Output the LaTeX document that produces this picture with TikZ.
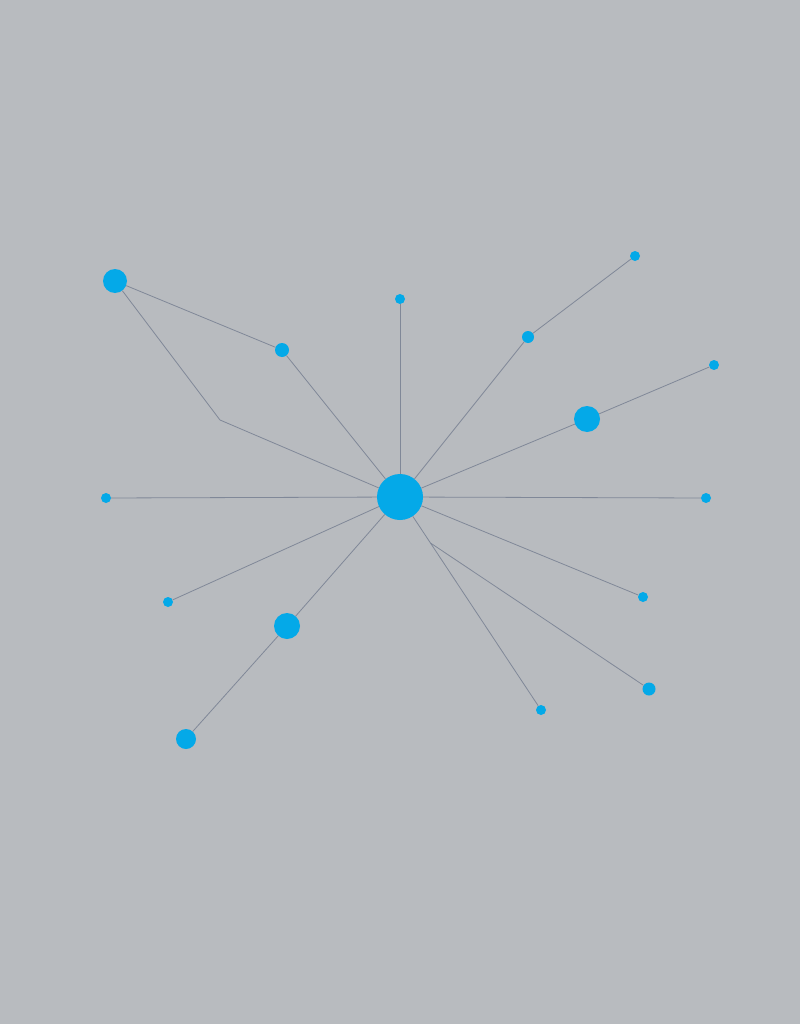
\documentclass[tikz,border=0pt]{standalone}
\definecolor{bg}{HTML}{B8BBBF}
\definecolor{dot}{HTML}{04A9E8}
\definecolor{ln}{HTML}{808898}
\tikzset{
  dotnode/.style={circle, fill=dot, draw=none, inner sep=0pt, minimum size=#1},
  link/.style={draw=ln, line width=0.8pt}
}
\begin{document}
\begin{tikzpicture}[x=1pt,y=-1pt]
\fill[bg] (0,0) rectangle (800,1024);
\useasboundingbox (0,0) rectangle (800,1024);
% coordinates
\coordinate (bend) at (220,420);
\coordinate (branch) at (430.5,543);
% nodes
\node[dotnode=46pt] (C) at (400,497) {};
\node[dotnode=24pt] (A) at (115,281) {};
\node[dotnode=14pt] (B) at (282,350) {};
\node[dotnode=10pt] (T) at (400,299) {};
\node[dotnode=10pt] (L) at (106,498) {};
\node[dotnode=12pt] (M1) at (528,337) {};
\node[dotnode=10pt] (E1) at (635,256) {};
\node[dotnode=26pt] (M2) at (587,419) {};
\node[dotnode=10pt] (E2) at (714,365) {};
\node[dotnode=10pt] (R) at (706,498) {};
\node[dotnode=10pt] (R3) at (643,597) {};
\node[dotnode=13pt] (R4) at (649,689) {};
\node[dotnode=10pt] (R5) at (541,710) {};
\node[dotnode=10pt] (LL) at (168,602) {};
\node[dotnode=26pt] (M3) at (287,626) {};
\node[dotnode=20pt] (E3) at (186,739) {};
% links
\begin{scope}[on background layer/.try]
\end{scope}
\path[link] (A) -- (B);
\path[link] (B) -- (C);
\path[link] (A) -- (bend) -- (C);
\path[link] (T) -- (C);
\path[link] (L) -- (C);
\path[link] (C) -- (M1);
\path[link] (M1) -- (E1);
\path[link] (C) -- (M2);
\path[link] (M2) -- (E2);
\path[link] (C) -- (R);
\path[link] (C) -- (R3);
\path[link] (C) -- (R5);
\path[link] (branch) -- (R4);
\path[link] (C) -- (LL);
\path[link] (C) -- (M3);
\path[link] (M3) -- (E3);
\end{tikzpicture}
\end{document}
